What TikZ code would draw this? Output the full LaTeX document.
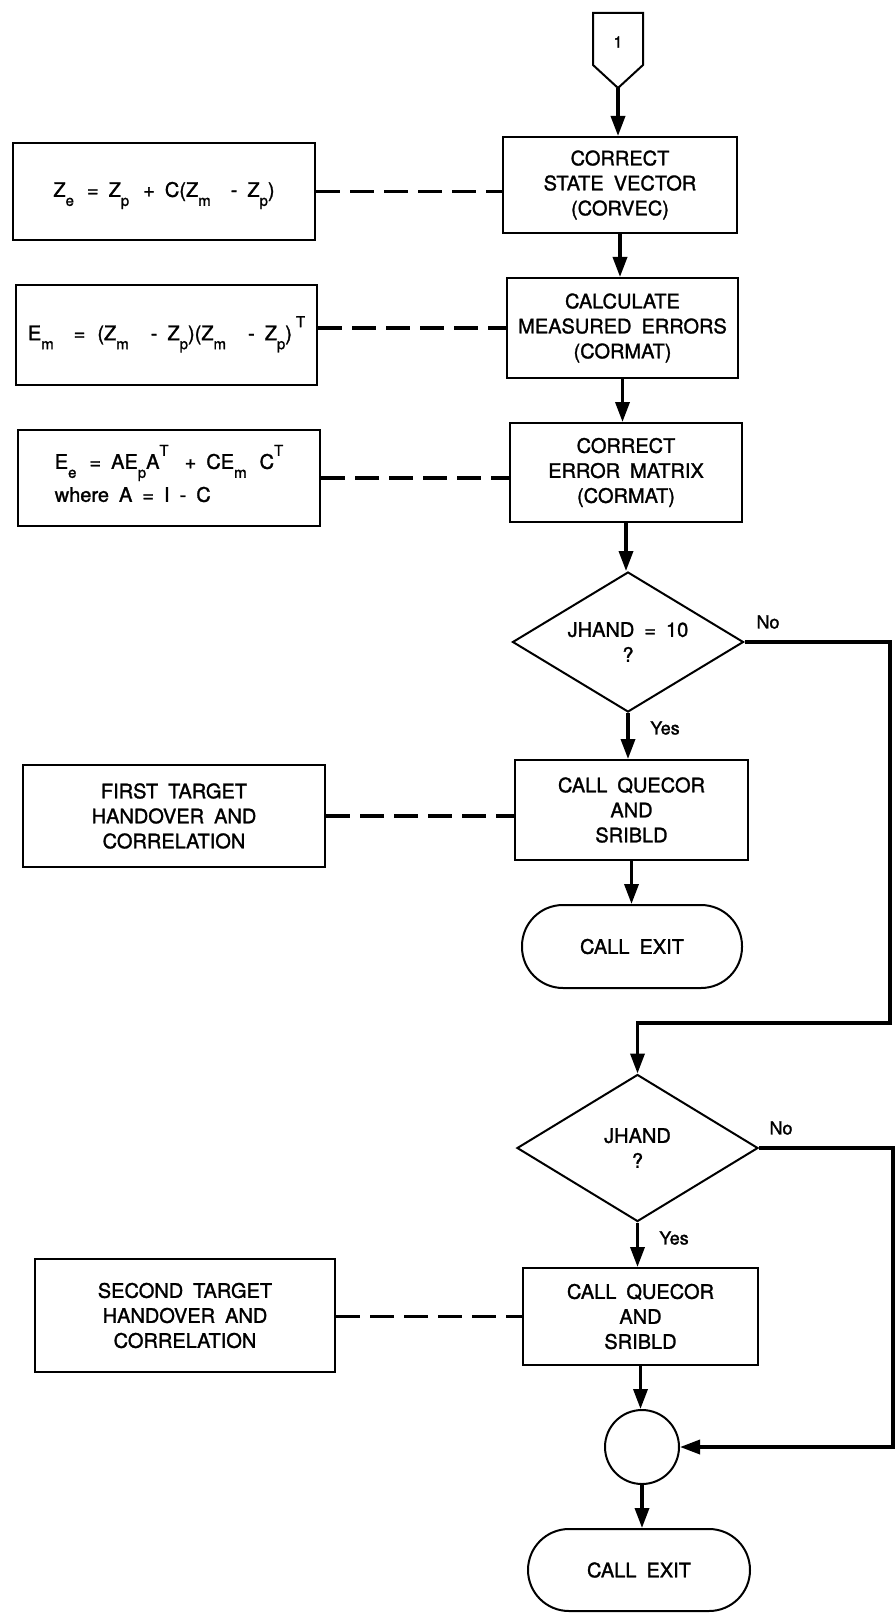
\documentclass[tikz,border=0pt]{standalone}
\usepackage{fontspec}
\setmainfont{TeX Gyre Heros}[WordSpace=1.8, FakeBold=1.4]
\usetikzlibrary{arrows.meta,shapes.geometric}

% lowered / raised indices for the formula boxes (no effect on line spacing)
\newcommand\lo[1]{\raisebox{-9pt}[0pt][0pt]{\fontsize{15}{15}\selectfont #1}}
\newcommand\hi[1]{\raisebox{13pt}[0pt][0pt]{\fontsize{15}{15}\selectfont #1}}

\begin{document}
\begin{tikzpicture}[x=1pt,y=-1pt,
  every node/.style={font=\fontsize{20}{25}\selectfont, align=center, inner sep=0pt},
  proc/.style={draw, line width=2pt, rectangle},
  decide/.style={draw, line width=2pt, diamond, shape aspect=1.65},
  term/.style={draw, line width=2pt, rectangle, rounded corners=41pt,
               minimum width=220, minimum height=83},
  junction/.style={draw, line width=2pt, circle, minimum size=74},
  small/.style={font=\fontsize{18}{18}\selectfont},
  flow/.style={line width=3.5pt, -{Triangle[length=20pt,width=14pt]}},
  link/.style={line width=3.5pt, dash pattern=on 24pt off 10pt}]

\useasboundingbox (0,0) rectangle (896,1613);

% off-page connector
\draw[line width=2pt, line join=miter] (593,13) -- (643,13) -- (643,65) -- (618,88) -- (593,65) -- cycle;
\node[font=\fontsize{16}{16}\selectfont] (one) at (618,42) {1};
\coordinate (op) at (618,88);

% main column
\node[proc, minimum width=234, minimum height=96] (b1) at (620,185)
  {CORRECT\\STATE VECTOR\\(CORVEC)};
\node[proc, minimum width=231, minimum height=100] (b2) at (622.5,328)
  {CALCULATE\\MEASURED ERRORS\\(CORMAT)};
\node[proc, minimum width=232, minimum height=99] (b3) at (626,472.5)
  {CORRECT\\ERROR MATRIX\\(CORMAT)};
\node[decide, minimum width=231, minimum height=140] (d1) at (628,642)
  {JHAND = 10\\?};
\node[proc, minimum width=233, minimum height=100] (q1) at (631.5,810)
  {CALL QUECOR\\AND\\SRIBLD};
\node[term] (t1) at (632,946.5) {CALL EXIT};
\node[decide, minimum width=241, minimum height=147] (d2) at (637.5,1148)
  {JHAND\\?};
\node[proc, minimum width=235, minimum height=97] (q2) at (640.5,1316.5)
  {CALL QUECOR\\AND\\SRIBLD};
\node[junction] (jn) at (642,1447) {};
\node[term, minimum width=222, minimum height=82] (t2) at (639,1570) {CALL EXIT};

% branch labels
\node[small] (no1) at (768,622) {No};
\node[small] (yes1) at (665,728) {Yes};
\node[small] (no2) at (781,1128) {No};
\node[small] (yes2) at (674,1238) {Yes};

% side boxes
\node[proc, minimum width=302, minimum height=97] (l1) at (164,191.5)
  {Z\lo{e}\kern3pt{} = Z\lo{p}\kern4pt{} + C(Z\lo{m}\kern10pt{} - Z\lo{p})};
\node[proc, minimum width=301, minimum height=100] (l2) at (166.5,335)
  {E\lo{m}\kern10pt{} = \kern2pt(Z\lo{m}\kern12pt{} - Z\lo{p})(Z\lo{m}\kern12pt{} - Z\lo{p})\kern4pt\hi{T}};
\node[proc, minimum width=302, minimum height=96, align=left] (l3) at (169,478)
  {E\lo{e}\kern3pt{} = AE\lo{p}A\hi{T}\kern6pt{} + CE\lo{m}\kern3pt{} C\hi{T}\\[8pt]
   where A = I - C};
\node[proc, minimum width=302, minimum height=102] (l4) at (174,816)
  {FIRST TARGET\\HANDOVER AND\\CORRELATION};
\node[proc, minimum width=300, minimum height=113] (l5) at (185,1315.5)
  {SECOND TARGET\\HANDOVER AND\\CORRELATION};

% flow connectors
\draw[flow] (op) -- (op |- b1.north);
\draw[flow] (b1.south) -- (b1.south |- b2.north);
\draw[flow] (b2.south) -- (b2.south |- b3.north);
\draw[flow] (b3.south) -- (b3.south |- d1.north);
\draw[flow] (d1.south) -- (d1.south |- q1.north);
\draw[flow] (q1.south) -- (q1.south |- t1.north);
\coordinate (c1) at (890,1023);
\draw[flow, line join=miter] (d1.east) -| (c1) -| (d2.north);
\draw[flow] (d2.south) -- (d2.south |- q2.north);
\draw[flow] (q2.south) -- (q2.south |- jn.north);
\coordinate (c2) at (893,1447);
\draw[flow, line join=miter] (d2.east) -| (c2) -- (jn.east);
\draw[flow] (jn.south) -- (jn.south |- t2.north);

% dashed references to the side boxes
\draw[link] (l1.east) -- (l1.east -| b1.west);
\draw[link] (l2.east |- b2.west) -- (b2.west);
\draw[link] (l3.east) -- (l3.east -| b3.west);
\draw[link] (l4.east) -- (l4.east -| q1.west);
\draw[link] (l5.east |- q2.west) -- (q2.west);
\end{tikzpicture}
\end{document}
